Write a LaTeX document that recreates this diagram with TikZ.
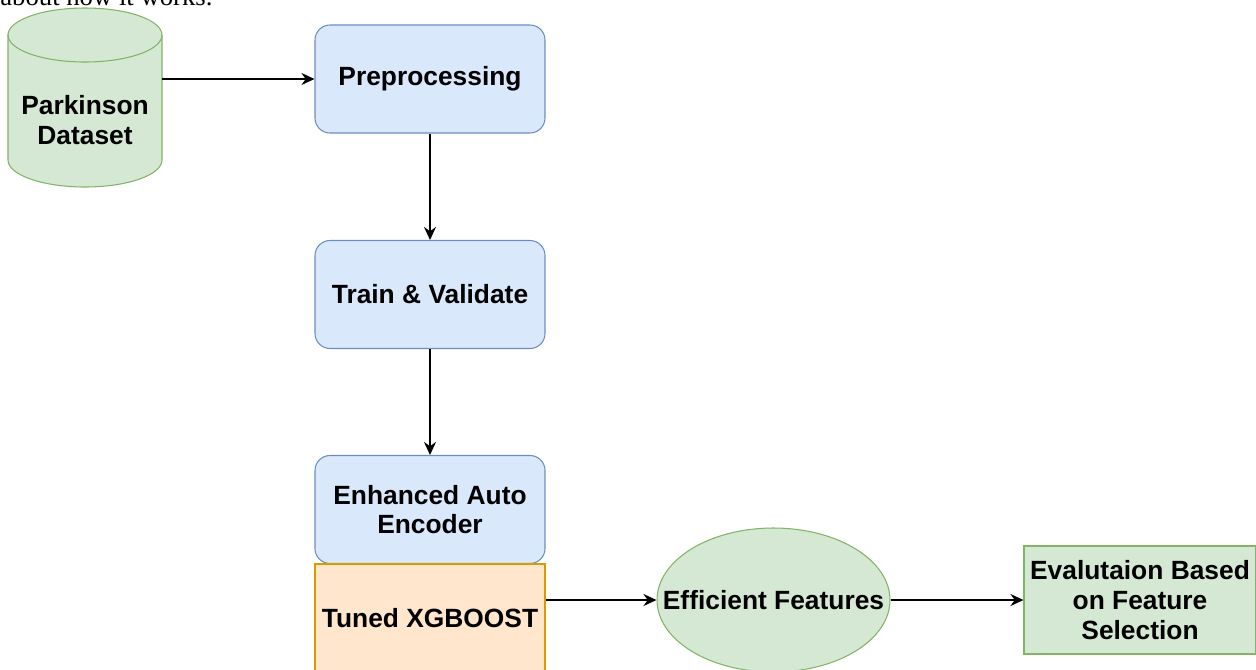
\documentclass[tikz,border=0pt]{standalone}
\usepackage{fontspec}
\setmainfont{Liberation Sans}
\newfontfamily\textserif{Liberation Serif}
\usetikzlibrary{arrows.meta,shapes.geometric}
\definecolor{bluefill}{HTML}{DAE8FC}
\definecolor{blueline}{HTML}{6C8EBF}
\definecolor{greenfill}{HTML}{D5E8D4}
\definecolor{greenline}{HTML}{82B366}
\definecolor{orangefill}{HTML}{FFE6CC}
\definecolor{orangeline}{HTML}{D79B00}
\begin{document}
\begin{tikzpicture}[x=1cm,y=1cm,
  every node/.style={font=\bfseries\fontsize{15}{17}\selectfont,align=center,inner sep=0pt},
  stage/.style={draw=blueline,fill=bluefill,line width=0.6pt,rounded corners=0.3cm,minimum width=4.6cm,minimum height=2.16cm},
  model/.style={draw=orangeline,fill=orangefill,line width=0.6pt,minimum width=4.6cm,minimum height=2.16cm},
  feat/.style={ellipse,draw=greenline,fill=greenfill,line width=0.6pt,inner xsep=-0.6cm,minimum width=4.66cm,minimum height=2.88cm},
  result/.style={draw=greenline,fill=greenfill,line width=0.6pt,minimum width=4.64cm,minimum height=2.16cm},
  arr/.style={-{Stealth[length=2.6mm,width=2.4mm]},line width=0.8pt}]
\useasboundingbox (0,0) rectangle (25.12,-13.38);
\node[font=\textserif\fontsize{15.2}{18}\selectfont,anchor=base west] (txt) at (0,-0.10) {about how it works.};
% data drum
\filldraw[fill=greenfill,draw=greenline,line width=0.6pt] (0.16,-0.70) -- (0.16,-3.20) arc (180:360:1.54 and 0.54) -- (3.24,-0.70) arc (0:180:1.54 and 0.54) -- cycle;
\draw[greenline,line width=0.6pt] (0.16,-0.70) arc (180:360:1.54 and 0.54);
\node (data) at (1.70,-2.40) {Parkinson\\Dataset};
\coordinate (dbout) at (3.24,-1.58);
\node[stage] (pre) at (8.60,-1.58) {Preprocessing};
\node[stage] (train) at (8.60,-5.89) {Train \& Validate};
\node[stage] (enc) at (8.60,-10.19) {Enhanced Auto\\Encoder};
\node[model] (xgb) at (8.60,-12.36) {Tuned XGBOOST};
\node[feat] (eff) at (15.47,-12.00) {Efficient Features};
\node[result] (eval) at (22.80,-12.00) {Evalutaion Based\\on Feature\\Selection};
\draw[arr] (dbout) -- (pre);
\foreach \u/\v in {pre/train,train/enc}
  \draw[arr] (\u) -- (\v);
\draw[arr] (xgb.east |- eff) -- (eff);
\draw[arr] (eff) -- (eval);
\end{tikzpicture}
\end{document}
